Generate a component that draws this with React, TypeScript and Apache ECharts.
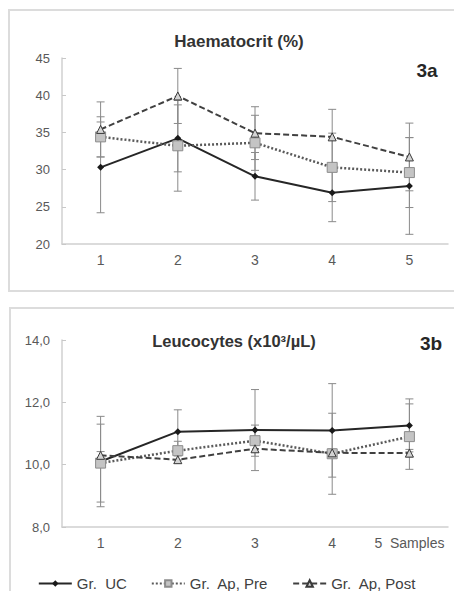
import React, { useEffect, useRef } from "react";
import * as echarts from "echarts";

const categories = ["1", "2", "3", "4", "5"];
const seriesNames = ["Gr.  UC", "Gr.  Ap, Pre", "Gr.  Ap, Post"];

const hctUC = [30.3, 34.2, 29.1, 26.9, 27.8];
const hctPre = [34.4, 33.2, 33.6, 30.3, 29.6];
const hctPost = [35.4, 39.9, 34.9, 34.4, 31.7];
const hctUCsd = [6.1, 4.5, 3.2, 3.9, 6.5];
const hctPreSd = [2.7, 6.1, 3.7, 4.6, 4.7];
const hctPostSd = [3.7, 3.7, 3.55, 3.7, 4.55];

const leuUC = [10.1, 11.06, 11.11, 11.1, 11.26];
const leuPre = [10.05, 10.45, 10.77, 10.35, 10.9];
const leuPost = [10.3, 10.16, 10.51, 10.38, 10.37];
const leuUCsd = [1.45, 0.7, 1.3, 1.5, 0.85];
const leuPreSd = [1.25, 0.3, 0.5, 1.3, 1.05];
const leuPostSd = [0.12, 0.12, 0.12, 0.12, 0.12];

const topTitle = "Haematocrit (%)";
const bottomTitle = "Leucocytes (x10³/µL)";
const topTag = "3a";
const bottomTag = "3b";
const xAxisSuffix = "Samples";

const FONT = "Liberation Sans, Arial, sans-serif";

function errData(vals: number[], sds: number[]) {
  return vals.map((v, i) => [i, v - sds[i], v + sds[i]]);
}

function errSeries(vals: number[], sds: number[], idx: number) {
  return {
    type: "custom",
    xAxisIndex: idx,
    yAxisIndex: idx,
    z: 1,
    silent: true,
    encode: { x: 0, y: [1, 2] },
    data: errData(vals, sds),
    renderItem: (params: any, api: any) => {
      const x = api.value(0);
      const lo = api.coord([x, api.value(1)]);
      const hi = api.coord([x, api.value(2)]);
      const w = 4;
      const st = { stroke: "#8a8a8a", lineWidth: 1 };
      return {
        type: "group",
        children: [
          { type: "line", shape: { x1: lo[0], y1: lo[1], x2: hi[0], y2: hi[1] }, style: st },
          { type: "line", shape: { x1: lo[0] - w, y1: lo[1], x2: lo[0] + w, y2: lo[1] }, style: st },
          { type: "line", shape: { x1: hi[0] - w, y1: hi[1], x2: hi[0] + w, y2: hi[1] }, style: st },
        ],
      };
    },
  };
}

function lineSeries(kind: number, vals: number[], idx: number) {
  const base: any = {
    type: "line",
    name: seriesNames[kind],
    xAxisIndex: idx,
    yAxisIndex: idx,
    data: vals,
    z: 3,
  };
  if (kind === 0) {
    return {
      ...base,
      symbol: "diamond",
      symbolSize: 7,
      itemStyle: { color: "#1a1a1a" },
      lineStyle: { color: "#262626", width: 2, type: "solid" },
    };
  }
  if (kind === 1) {
    return {
      ...base,
      symbol: "rect",
      symbolSize: 10,
      itemStyle: { color: "#c4c4c4", borderColor: "#8c8c8c", borderWidth: 1 },
      lineStyle: { color: "#5a5a5a", width: 2.5, type: [2, 2] },
    };
  }
  return {
    ...base,
    symbol: "triangle",
    symbolSize: 8,
    itemStyle: { color: "#d4d4d4", borderColor: "#3a3a3a", borderWidth: 1 },
    lineStyle: { color: "#404040", width: 2, type: [6, 3] },
  };
}

function xAxisCfg(idx: number, withSuffix: boolean) {
  return {
    type: "category",
    gridIndex: idx,
    data: categories,
    boundaryGap: true,
    axisLine: { lineStyle: { color: "#d0d0d0", width: 1.5 } },
    axisTick: { inside: true, length: 4, lineStyle: { color: "#c8c8c8" } },
    axisLabel: {
      color: "#595959",
      fontSize: 14,
      fontFamily: FONT,
      margin: 9,
      interval: 0,
      hideOverlap: false,
      formatter: (v: string, i: number) => (withSuffix && i === categories.length - 1 ? v + "  " + xAxisSuffix : v),
    },
    splitLine: { show: false },
  };
}

function yAxisCfg(idx: number, min: number, max: number, interval: number, decimals: number) {
  return {
    type: "value",
    gridIndex: idx,
    min,
    max,
    interval,
    axisLine: { show: true, lineStyle: { color: "#d0d0d0", width: 1.5 } },
    axisTick: { show: true, inside: true, length: 4, lineStyle: { color: "#c8c8c8" } },
    axisLabel: {
      color: "#595959",
      fontSize: 13,
      fontFamily: FONT,
      margin: 12,
      formatter: (v: number) => v.toFixed(decimals).replace(".", ","),
    },
    splitLine: { show: false },
  };
}

export default function App() {
  const ref = useRef<HTMLDivElement>(null);
  useEffect(() => {
    if (!ref.current) return;
    const chart = echarts.init(ref.current, undefined, { renderer: "svg" });
    chart.setOption({
      animation: false,
      backgroundColor: "#ffffff",
      graphic: [
        {
          type: "rect",
          z: -10,
          shape: { x: 9, y: 10, width: 470, height: 281 },
          style: { fill: "#ffffff", stroke: "#dcdcdc", lineWidth: 2 },
        },
        {
          type: "rect",
          z: -10,
          shape: { x: 10, y: 308, width: 470, height: 300 },
          style: { fill: "#ffffff", stroke: "#dcdcdc", lineWidth: 2 },
        },
        {
          type: "text",
          x: 239,
          y: 41,
          style: { text: topTitle, textAlign: "center", textVerticalAlign: "middle", font: "bold 17px " + FONT, fill: "#333333" },
        },
        {
          type: "text",
          x: 427,
          y: 70,
          style: { text: topTag, textAlign: "center", textVerticalAlign: "middle", font: "bold 19px " + FONT, fill: "#262626" },
        },
        {
          type: "text",
          x: 234,
          y: 341,
          style: { text: bottomTitle, textAlign: "center", textVerticalAlign: "middle", font: "bold 16.5px " + FONT, fill: "#333333" },
        },
        {
          type: "text",
          x: 431,
          y: 343,
          style: { text: bottomTag, textAlign: "center", textVerticalAlign: "middle", font: "bold 19px " + FONT, fill: "#262626" },
        },
      ],
      legend: {
        data: seriesNames,
        left: "center",
        top: 571,
        itemWidth: 33,
        itemHeight: 8,
        itemGap: 24,
        textStyle: { color: "#404040", fontSize: 15, fontFamily: FONT },
      },
      grid: [
        { left: 62, top: 58, width: 386, height: 186 },
        { left: 62, top: 340, width: 386, height: 187 },
      ],
      xAxis: [xAxisCfg(0, false), xAxisCfg(1, true)],
      yAxis: [yAxisCfg(0, 20, 45, 5, 0), yAxisCfg(1, 8, 14, 2, 1)],
      series: [
        errSeries(hctUC, hctUCsd, 0),
        errSeries(hctPre, hctPreSd, 0),
        errSeries(hctPost, hctPostSd, 0),
        errSeries(leuUC, leuUCsd, 1),
        errSeries(leuPre, leuPreSd, 1),
        errSeries(leuPost, leuPostSd, 1),
        lineSeries(0, hctUC, 0),
        lineSeries(1, hctPre, 0),
        lineSeries(2, hctPost, 0),
        lineSeries(0, leuUC, 1),
        lineSeries(1, leuPre, 1),
        lineSeries(2, leuPost, 1),
      ],
    });
    return () => chart.dispose();
  }, []);
  return (
    <div
      ref={ref}
      style={{ position: "fixed", left: 0, top: 0, width: 454, height: 591 }}
    />
  );
}
